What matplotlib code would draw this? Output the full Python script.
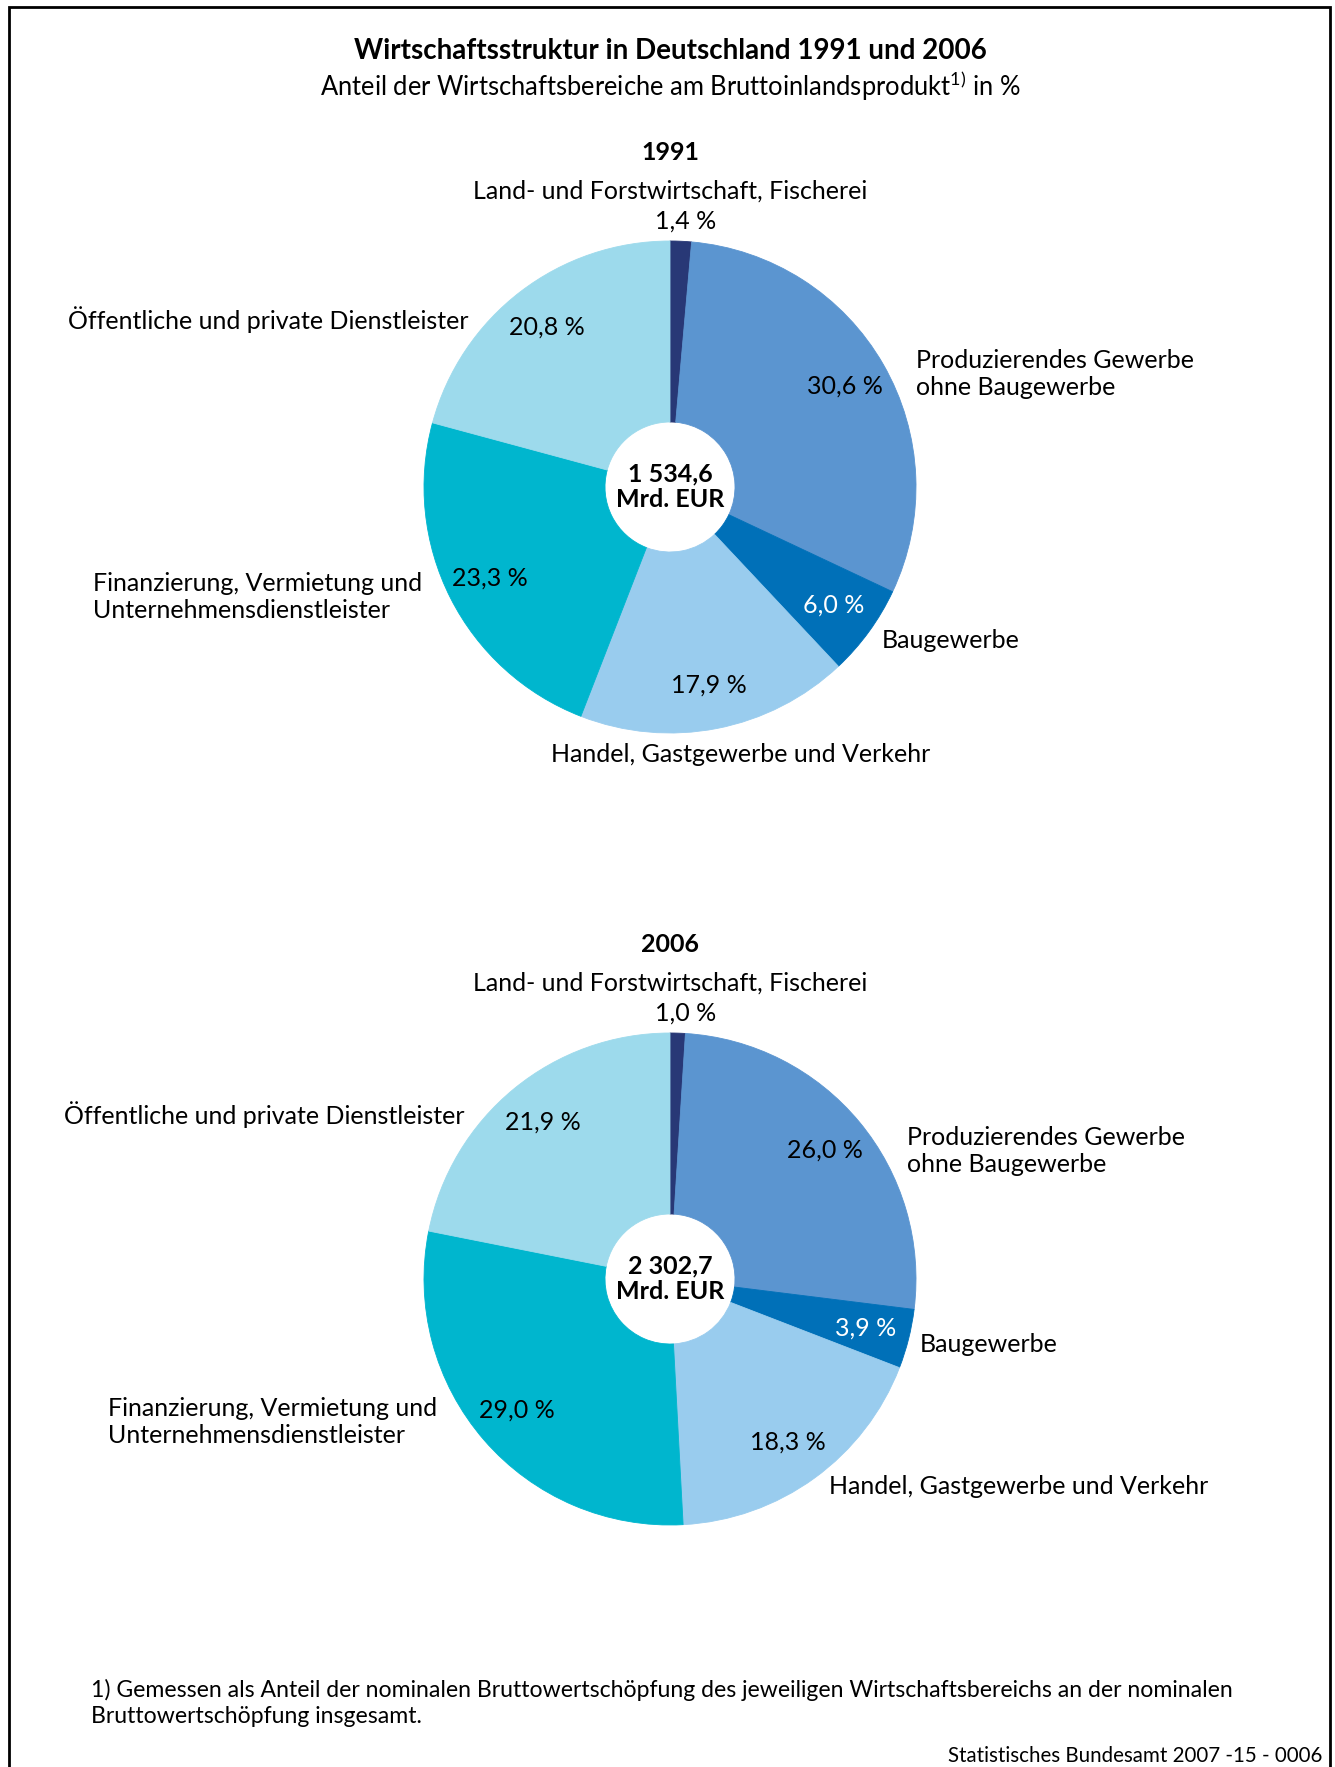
import matplotlib.pyplot as plt
import numpy as np
from matplotlib.patches import Rectangle

plt.rcParams['font.family'] = ['Lato', 'DejaVu Sans']
plt.rcParams['mathtext.fontset'] = 'custom'
plt.rcParams['mathtext.rm'] = 'Lato'

W, H = 1335, 1767

# data
sectors = ["Land- und Forstwirtschaft, Fischerei",
           "Produzierendes Gewerbe\nohne Baugewerbe",
           "Baugewerbe",
           "Handel, Gastgewerbe und Verkehr",
           "Finanzierung, Vermietung und\nUnternehmensdienstleister",
           "Öffentliche und private Dienstleister"]
years = ["1991", "2006"]
shares_1991 = [1.4, 30.6, 6.0, 17.9, 23.3, 20.8]
shares_2006 = [1.0, 26.0, 3.9, 18.3, 29.0, 21.9]
totals = ["1 534,6", "2 302,7"]

colors = ['#283876', '#5b95d0', '#0070b8', '#99ccee', '#00b6ce', '#9ddaec']
pct_colors = ['black', 'black', 'white', 'black', 'black', 'black']


def fmt(v):
    return f"{v:.1f}".replace('.', ',') + " %"


fig = plt.figure(figsize=(W / 100, H / 100), dpi=100)
ax = fig.add_axes([0, 0, 1, 1])

R, HOLE = 246, 65
FS = 18

# layout of the two charts (image pixel coords, y downwards)
centers = [(670, 487), (670, 1279)]
# outside labels: (x, y, ha) for each sector except the top one
outside = [
    [None, (916, 374, 'left'), (882, 640, 'left'), (741, 754, 'center'),
     (93, 597, 'left'), (468, 320, 'right')],
    [None, (907, 1151, 'left'), (920, 1344, 'left'), (829, 1487, 'left'),
     (108, 1422, 'left'), (465, 1115, 'right')],
]

for k, shares in enumerate([shares_1991, shares_2006]):
    cx, cy = centers[k]
    wedges, _ = ax.pie(shares, colors=colors, startangle=90, counterclock=False,
                       radius=R, center=(cx, H - cy),
                       wedgeprops=dict(width=R - HOLE, linewidth=0.6))
    for w in wedges:
        w.set_edgecolor(w.get_facecolor())

    # percentage labels inside the slices
    cum = np.cumsum([0] + shares[:-1])
    for i, v in enumerate(shares):
        if i == 0:
            continue
        mid = (cum[i] + v / 2) / 100 * 2 * np.pi
        x = cx + 0.82 * R * np.sin(mid)
        y = cy - 0.82 * R * np.cos(mid)
        ax.text(x, H - y, fmt(v), ha='center', va='center', fontsize=FS,
                color=pct_colors[i])

    # year, top sector label and value
    ax.text(cx, H - (cy - 335), years[k], ha='center', va='center',
            fontsize=FS, fontweight='bold')
    ax.text(cx, H - (cy - 296), sectors[0], ha='center', va='center',
            fontsize=FS)
    ax.text(cx + 16, H - (cy - 266), fmt(shares[0]), ha='center',
            va='center', fontsize=FS)

    for i in range(1, 6):
        x, y, ha = outside[k][i]
        ax.text(x, H - y, sectors[i], ha=ha, va='center', fontsize=FS,
                linespacing=1.25)

    # total in the middle
    ax.text(cx, H - cy, totals[k] + "\nMrd. EUR", ha='center', va='center',
            fontsize=FS, fontweight='bold', linespacing=1.15)

# titles
ax.text(670, H - 51, "Wirtschaftsstruktur in Deutschland 1991 und 2006",
        ha='center', va='center', fontsize=20, fontweight='bold')
ax.text(670, H - 86,
        r"Anteil der Wirtschaftsbereiche am Bruttoinlandsprodukt$^{\mathrm{1)}}$ in %",
        ha='center', va='center', fontsize=18.4)

# footnote and source
ax.text(91, H - 1703,
        "1) Gemessen als Anteil der nominalen Bruttowertschöpfung des jeweiligen "
        "Wirtschaftsbereichs an der nominalen\nBruttowertschöpfung insgesamt.",
        ha='left', va='center', fontsize=16.6, linespacing=1.3)
ax.text(1322, 1, "Statistisches Bundesamt 2007 -15 - 0006",
        ha='right', va='bottom', fontsize=14.8)

# frame
ax.add_patch(Rectangle((9, -20), 1321, H - 7 + 20, fill=False,
                       edgecolor='black', linewidth=2))

ax.set_xlim(0, W)
ax.set_ylim(0, H)
ax.set_aspect('equal')
ax.axis('off')

fig.savefig('out.png', dpi=100)
